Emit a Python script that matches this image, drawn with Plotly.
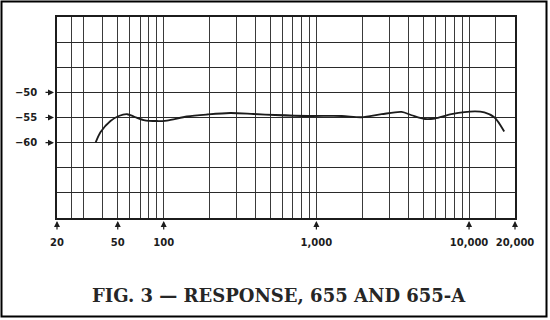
import math
import plotly.graph_objects as go

# ---- data ----
freq_hz = [35.8, 38.6, 44.8, 50.8, 57.7, 63.7, 74, 90.5, 105, 142, 192, 273, 388, 536,
           885, 1465, 1978, 2674, 3615, 4206, 5138, 5970, 7672, 10900, 12600, 14700, 17000]
response_db = [-60.0, -57.9, -55.7, -54.7, -54.35, -54.8, -55.5, -55.7, -55.6, -54.8, -54.4,
               -54.1, -54.3, -54.5, -54.7, -54.7, -54.95, -54.35, -53.9, -54.55, -55.3, -55.2,
               -54.35, -53.8, -54.0, -55.0, -57.8]

x_grid = [20, 25, 30, 40, 50, 60, 70, 80, 90, 100, 200, 300, 400, 500, 600, 700, 800, 900,
          1000, 2000, 3000, 4000, 5000, 6000, 7000, 8000, 9000, 10000, 15000, 20000]
x_labels = {20: "20", 50: "50", 100: "100", 1000: "1,000", 10000: "10,000", 20000: "20,000"}
y_grid = [-75, -70, -65, -60, -55, -50, -45, -40, -35]
y_labels = {-50: "\u221250", -55: "\u221255", -60: "\u221260"}
title_text = "FIG. 3 \u2014 RESPONSE, 655 AND 655-A"

INK = "#1c1c1c"
L, R, T, B = 57, 35, 17, 102
W, H = 550, 320
pw, ph = W - L - R, H - T - B

def px_x(p):
    return (p - L) / pw

def px_y(p):
    return (H - B - p) / ph

fig = go.Figure()
fig.add_trace(go.Scatter(
    x=freq_hz, y=response_db, mode="lines",
    line=dict(color=INK, width=1.8, shape="spline", smoothing=0.8),
    hoverinfo="skip", showlegend=False,
))

annotations = []
for f in x_labels:
    annotations.append(dict(
        xref="x", yref="paper", x=math.log10(f), y=0, text="",
        showarrow=True, ax=0, ay=13, arrowhead=2, arrowsize=1, arrowwidth=1.2,
        arrowcolor=INK, standoff=3,
    ))
for v in y_labels:
    annotations.append(dict(
        xref="paper", yref="y", x=0, y=v, text="",
        showarrow=True, ax=-13, ay=0, arrowhead=2, arrowsize=1, arrowwidth=1.2,
        arrowcolor=INK, standoff=3,
    ))
annotations.append(dict(
    xref="paper", yref="paper", x=px_x(278.5), y=px_y(295), text=title_text,
    showarrow=False, xanchor="center", yanchor="middle",
    font=dict(family="DejaVu Serif", size=18, color="#262626", weight="bold"),
))

fig.update_layout(
    width=W, height=H,
    margin=dict(l=L, r=R, t=T, b=B, pad=0),
    paper_bgcolor="white", plot_bgcolor="white",
    showlegend=False,
    font=dict(family="DejaVu Sans", size=10, color=INK),
    annotations=annotations,
    shapes=[dict(
        type="rect", xref="paper", yref="paper",
        x0=px_x(1.5), x1=px_x(546.5), y0=px_y(316.5), y1=px_y(1.5),
        line=dict(color="black", width=2), fillcolor="rgba(0,0,0,0)", layer="below",
    )],
)
fig.update_xaxes(
    type="log", range=[math.log10(20), math.log10(20000)],
    tickmode="array", tickvals=x_grid,
    ticktext=[x_labels.get(v, "") for v in x_grid],
    showgrid=True, gridcolor="#3a3a3a", gridwidth=1,
    showline=True, linecolor=INK, linewidth=1.5, mirror=True,
    ticks="", ticklabelstandoff=14, zeroline=False,
    tickfont=dict(family="DejaVu Sans", size=10, color=INK, weight="bold"),
)
fig.update_yaxes(
    range=[-75, -35],
    tickmode="array", tickvals=y_grid,
    ticktext=[y_labels.get(v, "") for v in y_grid],
    showgrid=True, gridcolor="#2a2a2a", gridwidth=1.4,
    showline=True, linecolor=INK, linewidth=1.5, mirror=True,
    ticks="", ticklabelstandoff=16, zeroline=False,
    tickfont=dict(family="DejaVu Sans", size=10, color=INK, weight="bold"),
)

fig.write_html("out.html")
